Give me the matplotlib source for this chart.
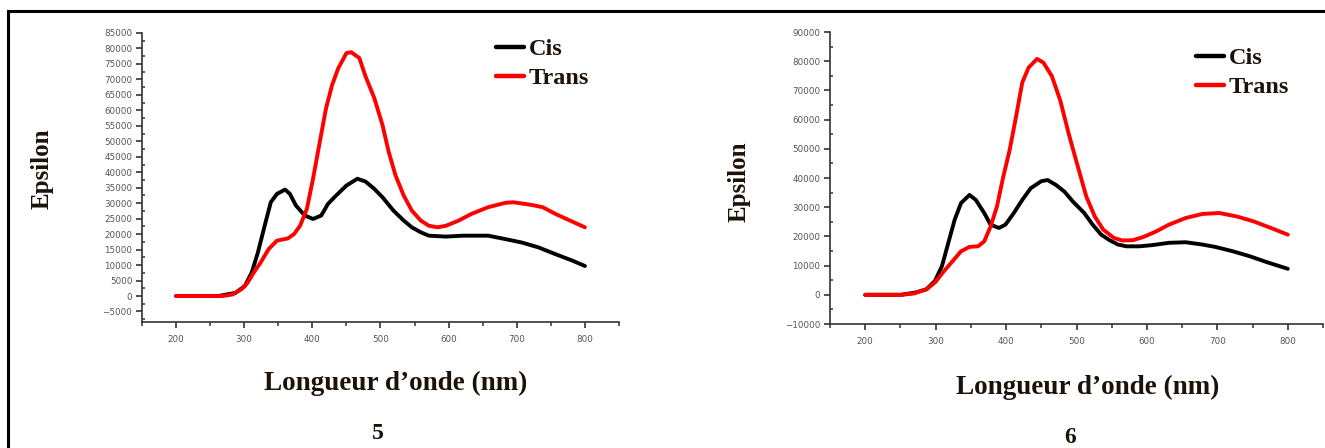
import matplotlib
matplotlib.use("Agg")
import matplotlib.pyplot as plt
from matplotlib.ticker import MultipleLocator
from matplotlib.lines import Line2D

# ---------------- data ----------------
# Compound 5
cis5_nm = [200, 230, 262, 287, 301, 311, 320, 330, 339, 348, 360, 367, 376, 389, 401, 413, 423,
           435, 450, 466, 478, 491, 503, 519, 534, 546, 559, 571, 596, 621, 658, 683, 707, 732,
           757, 782, 800]
cis5_eps = [0, 0, 0, 1000, 3250, 7600, 14000, 22700, 30300, 33000, 34400, 33000, 29200, 26000,
            24900, 26000, 29800, 32500, 35700, 37900, 37000, 34600, 31900, 27600, 24400, 22200,
            20600, 19500, 19200, 19500, 19500, 18400, 17300, 15700, 13500, 11400, 9700]
trans5_nm = [200, 240, 268, 283, 296, 305, 314, 324, 336, 348, 364, 373, 382, 392, 401, 410, 420,
             429, 438, 450, 457, 469, 478, 491, 503, 512, 522, 534, 546, 559, 571, 584, 596, 615,
             633, 658, 683, 695, 720, 738, 757, 782, 800]
trans5_eps = [0, 0, 0, 500, 2200, 4300, 7600, 10800, 15200, 17900, 18600, 20000, 22700, 28200,
              37900, 48700, 60600, 68200, 73600, 78500, 78800, 76900, 71000, 63900, 55200, 46600,
              39000, 32500, 27600, 24400, 22700, 22200, 22700, 24400, 26500, 28700, 30100, 30300,
              29500, 28700, 26500, 24000, 22200]

# Compound 6
cis6_nm = [200, 230, 251, 272, 287, 299, 309, 318, 327, 336, 348, 357, 369, 378, 390, 399, 411,
           423, 435, 450, 459, 471, 483, 495, 511, 523, 535, 547, 559, 571, 589, 607, 631, 655,
           679, 697, 722, 746, 770, 800]
cis6_eps = [0, 0, 0, 800, 1900, 4750, 9850, 17800, 25700, 31400, 34200, 32500, 28000, 24000,
            22900, 24000, 28000, 32500, 36500, 38900, 39300, 37600, 35300, 31900, 28000, 24000,
            20600, 18700, 17200, 16600, 16600, 17000, 17800, 18000, 17200, 16400, 14900, 13200,
            11200, 8900]
trans6_nm = [200, 230, 251, 269, 287, 299, 312, 324, 336, 348, 360, 369, 378, 387, 396, 405, 414,
             423, 432, 444, 453, 465, 477, 489, 502, 514, 526, 538, 553, 565, 580, 595, 613, 631,
             655, 679, 703, 728, 752, 776, 800]
trans6_eps = [0, 0, 0, 450, 1900, 4200, 8150, 11500, 14900, 16400, 16600, 18300, 23400, 30200,
              40400, 49500, 60800, 72700, 77800, 80800, 79500, 74900, 66500, 55100, 43800, 33600,
              26800, 22300, 19500, 18600, 18700, 19800, 21700, 24000, 26300, 27700, 28000, 26800,
              25100, 22900, 20600]

series_labels = ["Cis", "Trans"]
panel_labels = ["5", "6"]
x_label = "Longueur d\u2019onde (nm)"
y_label = "Epsilon"

# ---------------- figure ----------------
fig = plt.figure(figsize=(13.25, 4.48), dpi=100)
W, H = 1325.0, 448.0

def fx(px):
    return px / W

def fy(py):
    return 1 - py / H

serif = ["Liberation Serif", "DejaVu Serif"]
label_col = "#1c1208"
tick_col = "#555555"
spine_col = "#333333"

# outer frame (left + top)
fig.add_artist(Line2D([fx(8), fx(8)], [fy(11), 0], color="black", lw=2.2, transform=fig.transFigure))
fig.add_artist(Line2D([fx(8), 1], [fy(11), fy(11)], color="black", lw=2.2, transform=fig.transFigure))

panels = [
    dict(rect=[fx(142), fy(322), fx(619) - fx(142), fy(33) - fy(322)],
         ylim=(-8400, 85000), ymaj=5000, ymin=2500,
         cis=(cis5_nm, cis5_eps), trans=(trans5_nm, trans5_eps),
         ylab_x=42, ylab_y=169, xlab=(396, 383), num=(378, 433), leg=(484, 26)),
    dict(rect=[fx(830), fy(324), fx(1323) - fx(830), fy(32) - fy(324)],
         ylim=(-10000, 90000), ymaj=10000, ymin=5000,
         cis=(cis6_nm, cis6_eps), trans=(trans6_nm, trans6_eps),
         ylab_x=739, ylab_y=182, xlab=(1088, 387), num=(1070, 437), leg=(1184, 35)),
]

for i, p in enumerate(panels):
    ax = fig.add_axes(p["rect"])
    ax.plot(p["cis"][0], p["cis"][1], color="black", lw=2.8, label=series_labels[0],
            solid_joinstyle="round", solid_capstyle="round")
    ax.plot(p["trans"][0], p["trans"][1], color="#ff0000", lw=2.8, label=series_labels[1],
            solid_joinstyle="round", solid_capstyle="round")
    ax.set_xlim(150, 850)
    ax.set_ylim(*p["ylim"])
    ax.xaxis.set_major_locator(MultipleLocator(100))
    ax.xaxis.set_minor_locator(MultipleLocator(50))
    ax.yaxis.set_major_locator(MultipleLocator(p["ymaj"]))
    ax.yaxis.set_minor_locator(MultipleLocator(p["ymin"]))
    for s in ["top", "right"]:
        ax.spines[s].set_visible(False)
    for s in ["left", "bottom"]:
        ax.spines[s].set_color(spine_col)
        ax.spines[s].set_linewidth(1.2)
    ax.tick_params(axis="both", which="major", direction="out", length=4, width=1.2,
                   color=spine_col, labelsize=6.3, labelcolor=tick_col, pad=3)
    ax.tick_params(axis="x", which="minor", direction="out", length=3, width=1.1, color=spine_col)
    ax.tick_params(axis="y", which="minor", direction="in", length=2.5, width=1.1, color=spine_col)
    ax.tick_params(axis="x", which="major", pad=5)
    for lab in ax.get_xticklabels() + ax.get_yticklabels():
        lab.set_family("DejaVu Sans")

    leg = ax.legend(loc="upper left", bbox_to_anchor=(fx(p["leg"][0]), fy(p["leg"][1])),
                    bbox_transform=fig.transFigure, frameon=False, borderpad=0,
                    handlelength=1.15, handletextpad=0.2, labelspacing=0.3,
                    prop=dict(family=serif, weight="bold", size=17.5))
    for t in leg.get_texts():
        t.set_color(label_col)
    for h in leg.legend_handles:
        h.set_linewidth(3.2)

    fig.text(fx(p["ylab_x"]), fy(p["ylab_y"]), y_label, rotation=90, ha="center", va="center",
             family=serif, weight="bold", size=18, color=label_col)
    fig.text(fx(p["xlab"][0]), fy(p["xlab"][1]), x_label, ha="center", va="center",
             family=serif, weight="bold", size=19.5, color=label_col)
    fig.text(fx(p["num"][0]), fy(p["num"][1]), panel_labels[i], ha="center", va="center",
             family=serif, weight="bold", size=17, color=label_col)

fig.savefig("out.png", dpi=100)
